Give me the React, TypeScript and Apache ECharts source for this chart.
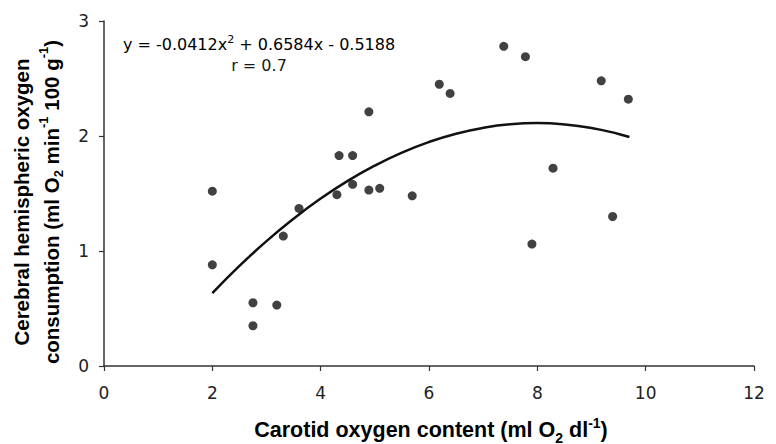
import React, { useEffect, useRef } from "react";
import * as echarts from "echarts";

// Scatter observations (carotid O2 content, hemispheric O2 consumption)
const pointX = [2.0, 2.0, 2.75, 2.75, 3.19, 3.31, 3.6, 4.3, 4.34, 4.59, 4.59, 4.89, 4.89, 5.09, 5.69, 6.19, 6.39, 7.38, 7.78, 8.29, 9.18, 9.68, 9.39, 7.9];
const pointY = [1.52, 0.88, 0.55, 0.35, 0.53, 1.13, 1.37, 1.49, 1.83, 1.83, 1.58, 2.21, 1.53, 1.545, 1.48, 2.45, 2.37, 2.78, 2.69, 1.72, 2.48, 2.32, 1.3, 1.06];

// Fitted quadratic curve
const curveX = [2, 2.5, 3, 3.5, 4, 4.5, 5, 5.5, 6, 6.5, 7, 7.5, 8, 8.5, 9, 9.5, 9.7];
const curveY = [0.633, 0.87, 1.086, 1.281, 1.456, 1.61, 1.743, 1.856, 1.948, 2.02, 2.071, 2.102, 2.112, 2.101, 2.07, 2.018, 1.991];

const xTicks = [0, 2, 4, 6, 8, 10, 12];
const yTicks = [0, 1, 2, 3];

const equationLine = "y = -0.0412x";
const equationSup = "2";
const equationRest = " + 0.6584x - 0.5188";
const rLine = "r = 0.7";

function richFor(size: number) {
  const titleFont = "Liberation Sans, Arial, sans-serif";
  const small = Math.round(size * 0.64);
  return {
    b: { fontFamily: titleFont, fontWeight: "bold", fontSize: size, color: "#111", lineHeight: Math.round(size * 1.35) },
    sub: { fontFamily: titleFont, fontWeight: "bold", fontSize: small, color: "#111", lineHeight: small, verticalAlign: "bottom" },
    sup: { fontFamily: titleFont, fontWeight: "bold", fontSize: small, color: "#111", lineHeight: small, verticalAlign: "top" },
  };
}

export default function App() {
  const ref = useRef<HTMLDivElement>(null);

  useEffect(() => {
    if (!ref.current) return;
    const chart = echarts.init(ref.current, null, { renderer: "svg" });
    const tickFont = "DejaVu Sans, sans-serif";
    chart.setOption({
      animation: false,
      backgroundColor: "#ffffff",
      grid: { left: 104, right: 22, top: 21, bottom: 78, containLabel: false },
      xAxis: {
        type: "value",
        min: xTicks[0],
        max: xTicks[xTicks.length - 1],
        interval: 2,
        axisLine: { show: true, lineStyle: { color: "#333", width: 1.5 } },
        axisTick: { show: true, length: 5, lineStyle: { color: "#333", width: 1.2 } },
        axisLabel: { fontFamily: tickFont, fontSize: 17, color: "#222", margin: 18 },
        splitLine: { show: false },
      },
      yAxis: {
        type: "value",
        min: yTicks[0],
        max: yTicks[yTicks.length - 1],
        interval: 1,
        axisLine: { show: true, lineStyle: { color: "#333", width: 1.5 } },
        axisTick: { show: true, length: 5, lineStyle: { color: "#333", width: 1.2 } },
        axisLabel: { fontFamily: tickFont, fontSize: 17, color: "#222", margin: 15 },
        splitLine: { show: false },
      },
      series: [
        {
          type: "line",
          data: curveX.map((x, i) => [x, curveY[i]]),
          smooth: true,
          showSymbol: false,
          lineStyle: { color: "#111", width: 2.5 },
          z: 2,
        },
        {
          type: "scatter",
          data: pointX.map((x, i) => [x, pointY[i]]),
          symbol: "circle",
          symbolSize: 9,
          itemStyle: { color: "#111" },
          z: 3,
        },
      ],
      graphic: [
        {
          type: "text",
          x: 259,
          y: 44,
          style: {
            text: `{n|${equationLine}}{s|${equationSup}}{n|${equationRest}}`,
            align: "center",
            verticalAlign: "middle",
            rich: {
              n: { fontFamily: tickFont, fontSize: 16, color: "#1a1a1a", lineHeight: 20 },
              s: { fontFamily: tickFont, fontSize: 11, color: "#1a1a1a", lineHeight: 11, verticalAlign: "top" },
            },
          },
        },
        {
          type: "text",
          x: 259,
          y: 65,
          style: {
            text: rLine,
            align: "center",
            verticalAlign: "middle",
            fontFamily: tickFont,
            fontSize: 16,
            fill: "#1a1a1a",
          },
        },
        {
          type: "text",
          x: 431,
          y: 430,
          style: {
            text: "{b|Carotid oxygen content (ml O}{sub|2}{b| dl}{sup|-1}{b|)}",
            align: "center",
            verticalAlign: "middle",
            rich: richFor(21.5),
          },
        },
        {
          type: "text",
          x: 21,
          y: 202,
          rotation: Math.PI / 2,
          style: {
            text: "{b|Cerebral hemispheric oxygen}",
            align: "center",
            verticalAlign: "middle",
            rich: richFor(20.5),
          },
        },
        {
          type: "text",
          x: 51,
          y: 202,
          rotation: Math.PI / 2,
          style: {
            text: "{b|consumption (ml O}{sub|2}{b| min}{sup|-1}{b| 100 g}{sup|-1}{b|)}",
            align: "center",
            verticalAlign: "middle",
            rich: richFor(20.5),
          },
        },
      ],
    });
    return () => chart.dispose();
  }, []);

  return (
    <div
      ref={ref}
      style={{ position: "absolute", left: 0, top: 0, width: 776, height: 444 }}
    />
  );
}
